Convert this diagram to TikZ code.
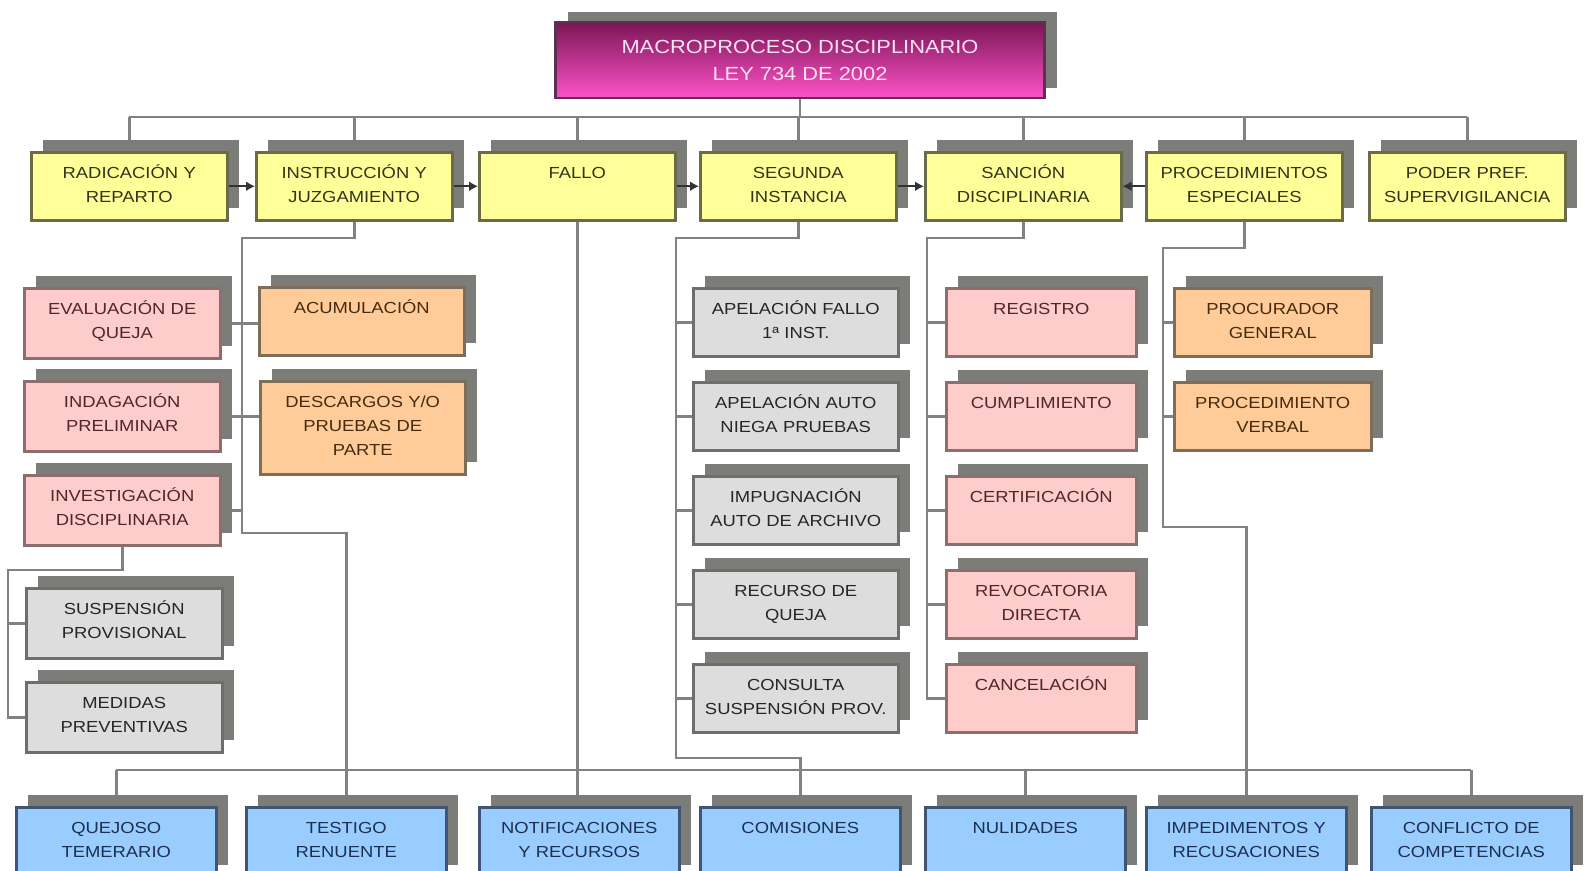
\documentclass[tikz,border=0pt]{standalone}
\usepackage{fontspec}
\setmainfont{Liberation Sans}[FakeStretch=1.15]
\usetikzlibrary{shadows,backgrounds,arrows.meta}

\definecolor{amarillo}{HTML}{FFFF99}
\definecolor{rosa}{HTML}{FFCCCC}
\definecolor{naranja}{HTML}{FFCC99}
\definecolor{grisclaro}{HTML}{DDDDDD}
\definecolor{celeste}{HTML}{99CCFF}
\definecolor{sombra}{HTML}{7C7C78}
\definecolor{lineagris}{HTML}{828282}
\definecolor{bordeam}{HTML}{6B6B48}
\definecolor{bordero}{HTML}{8C6E6E}
\definecolor{bordena}{HTML}{7D6E5A}
\definecolor{bordegr}{HTML}{6E6E6E}
\definecolor{bordeaz}{HTML}{3F5573}
\definecolor{textoam}{HTML}{33331A}
\definecolor{textoro}{HTML}{552525}
\definecolor{textona}{HTML}{452C0E}
\definecolor{textogr}{HTML}{262626}
\definecolor{textoaz}{HTML}{1C3052}
\definecolor{magentaosc}{HTML}{7A1656}
\definecolor{magentacla}{HTML}{FF52C8}
\definecolor{bordemg}{HTML}{5C3050}
\definecolor{textomg}{HTML}{FFE0F5}

\begin{document}
\begin{tikzpicture}[x=1pt,y=-1pt,
    caja/.style={draw, line width=2.5pt, anchor=north west, align=center,
      inner xsep=5pt, inner ysep=8pt, text height=18pt, text depth=#1,
      font=\fontsize{16}{24}\selectfont,
      drop shadow={shadow xshift=12pt,shadow yshift=12pt,fill=sombra,opacity=1}},
    caja/.default=34pt,
    etapa/.style={caja, fill=amarillo, draw=bordeam, text=textoam, text width=186pt},
    tramite/.style={caja=#1, fill=rosa, draw=bordero, text=textoro},
    tramite/.default=36pt,
    pieza/.style={caja=#1, fill=naranja, draw=bordena, text=textona},
    pieza/.default=34pt,
    recurso/.style={caja=#1, fill=grisclaro, draw=bordegr, text=textogr},
    recurso/.default=34pt,
    incidente/.style={caja=36pt, fill=celeste, draw=bordeaz, text=textoaz, text width=190pt},
    cabecera/.style={draw=bordemg, line width=2.5pt, top color=magentaosc, bottom color=magentacla,
      text=textomg, minimum width=489pt, minimum height=76pt, align=center,
      font=\fontsize{19}{27}\selectfont,
      drop shadow={shadow xshift=12pt,shadow yshift=10pt,fill=sombra,opacity=1}},
    conector/.style={draw=lineagris, line width=2.5pt},
    flecha/.style={draw=black!80, line width=2pt, -{Latex[length=9pt,width=10pt]}}]

  \useasboundingbox (0,0) rectangle (1589,870);

  \node[cabecera] (cab) at (800,60) {MACROPROCESO DISCIPLINARIO\\LEY 734 DE 2002};

  % etapas
  \foreach \nombre/\x/\texto in {rad/30/{RADICACIÓN Y\\REPARTO}, ins/255/{INSTRUCCIÓN Y\\JUZGAMIENTO},
      fal/478/FALLO, seg/699/{SEGUNDA\\INSTANCIA}, san/924/{SANCIÓN\\DISCIPLINARIA},
      pro/1145/{PROCEDIMIENTOS\\ESPECIALES}, pod/1368/{PODER PREF.\\SUPERVIGILANCIA}}
    \node[etapa] (\nombre) at (\x,151) {\texto};

  % instruccion
  \foreach \nombre/\y/\texto in {eva/287/{EVALUACIÓN DE\\QUEJA}, ind/380/{INDAGACIÓN\\PRELIMINAR},
      inv/474/{INVESTIGACIÓN\\DISCIPLINARIA}}
    \node[tramite, text width=186pt] (\nombre) at (23,\y) {\texto};
  \node[pieza, text width=195pt] (acu) at (258,286) {ACUMULACIÓN};
  \node[pieza=59pt, text width=195pt] (des) at (259,380) {DESCARGOS Y/O\\PRUEBAS DE\\PARTE};
  \foreach \nombre/\y/\texto in {sus/587/{SUSPENSIÓN\\PROVISIONAL}, med/681/{MEDIDAS\\PREVENTIVAS}}
    \node[recurso=36pt, text width=186pt] (\nombre) at (25,\y) {\texto};

  % segunda instancia
  \foreach \nombre/\texto [count=\i] in {apf/{APELACIÓN FALLO\\1ª INST.}, apa/{APELACIÓN AUTO\\NIEGA PRUEBAS},
      ipa/{IMPUGNACIÓN\\AUTO DE ARCHIVO}, rdq/{RECURSO DE\\QUEJA}, csp/{CONSULTA\\SUSPENSIÓN PROV.}}
    \node[recurso, text width=195pt] (\nombre) at (692,{287+94*(\i-1)}) {\texto};

  % sancion
  \foreach \nombre/\texto [count=\i] in {reg/REGISTRO, cum/CUMPLIMIENTO, cer/CERTIFICACIÓN,
      rev/{REVOCATORIA\\DIRECTA}, can/CANCELACIÓN}
    \node[tramite=34pt, text width=180pt] (\nombre) at (945,{287+94*(\i-1)}) {\texto};

  % procedimientos especiales
  \node[pieza, text width=187pt] (pgn) at (1173,287) {PROCURADOR\\GENERAL};
  \node[pieza, text width=187pt] (pve) at (1173,381) {PROCEDIMIENTO\\VERBAL};

  % incidentes
  \foreach \nombre/\x/\texto in {que/15/{QUEJOSO\\TEMERARIO}, tes/245/{TESTIGO\\RENUENTE},
      ntf/478/{NOTIFICACIONES\\Y RECURSOS}, com/699/COMISIONES, nul/924/NULIDADES,
      ime/1145/{IMPEDIMENTOS Y\\RECUSACIONES}, cdc/1370/{CONFLICTO DE\\COMPETENCIAS}}
    \node[incidente] (\nombre) at (\x,806) {\texto};

  \begin{scope}[on background layer]
    \coordinate (barra) at (0,117);
    \draw[conector] (cab.south) -- (cab.south |- barra);
    \draw[conector] (rad.north |- barra) -- (pod.north |- barra);
    \foreach \nombre in {rad,ins,fal,seg,san,pro,pod}
      \draw[conector] (\nombre.north |- barra) -- (\nombre.north);

    \coordinate (codoI) at (242,238);
    \coordinate (pieI) at (242,533);
    \draw[conector] (ins.south) |- (codoI) -- (pieI) -| (tes.north);
    \draw[conector] (eva.east) -- (eva.east -| acu.west);
    \draw[conector] (ind.east) -- (ind.east -| des.west);
    \draw[conector] (inv.east) -- (inv.east -| codoI);

    \coordinate (esqI) at (8,570);
    \draw[conector] (inv.south) |- (esqI) |- (med.west);
    \draw[conector] (sus.west) -- (sus.west -| esqI);

    \draw[conector] (fal.south) -- (fal.south |- ntf.north);

    \coordinate (codoS) at (676,238);
    \coordinate (pieS) at (676,758);
    \draw[conector] (seg.south) |- (codoS) -- (pieS) -| (com.north);
    \foreach \nombre in {apf,apa,ipa,rdq,csp}
      \draw[conector] (\nombre.west) -- (\nombre.west -| codoS);

    \coordinate (codoN) at (927,238);
    \draw[conector] (san.south) |- (codoN) |- (can.west);
    \foreach \nombre in {reg,cum,cer,rev}
      \draw[conector] (\nombre.west) -- (\nombre.west -| codoN);

    \coordinate (codoP) at (1163,248);
    \coordinate (pieP) at (1163,527);
    \draw[conector] (pro.south) |- (codoP) -- (pieP) -| (ime.north);
    \foreach \nombre in {pgn,pve}
      \draw[conector] (\nombre.west) -- (\nombre.west -| codoP);

    \coordinate (barraB) at (0,770);
    \draw[conector] (que.north |- barraB) -- (cdc.north |- barraB);
    \foreach \nombre in {que,nul,cdc}
      \draw[conector] (\nombre.north |- barraB) -- (\nombre.north);
  \end{scope}

  % flujo entre etapas
  \foreach \a/\b in {rad/ins,ins/fal,fal/seg,seg/san}
    \draw[flecha] (\a.east) -- (\b.west);
  \draw[flecha] (pro.west) -- (san.east);
\end{tikzpicture}
\end{document}
